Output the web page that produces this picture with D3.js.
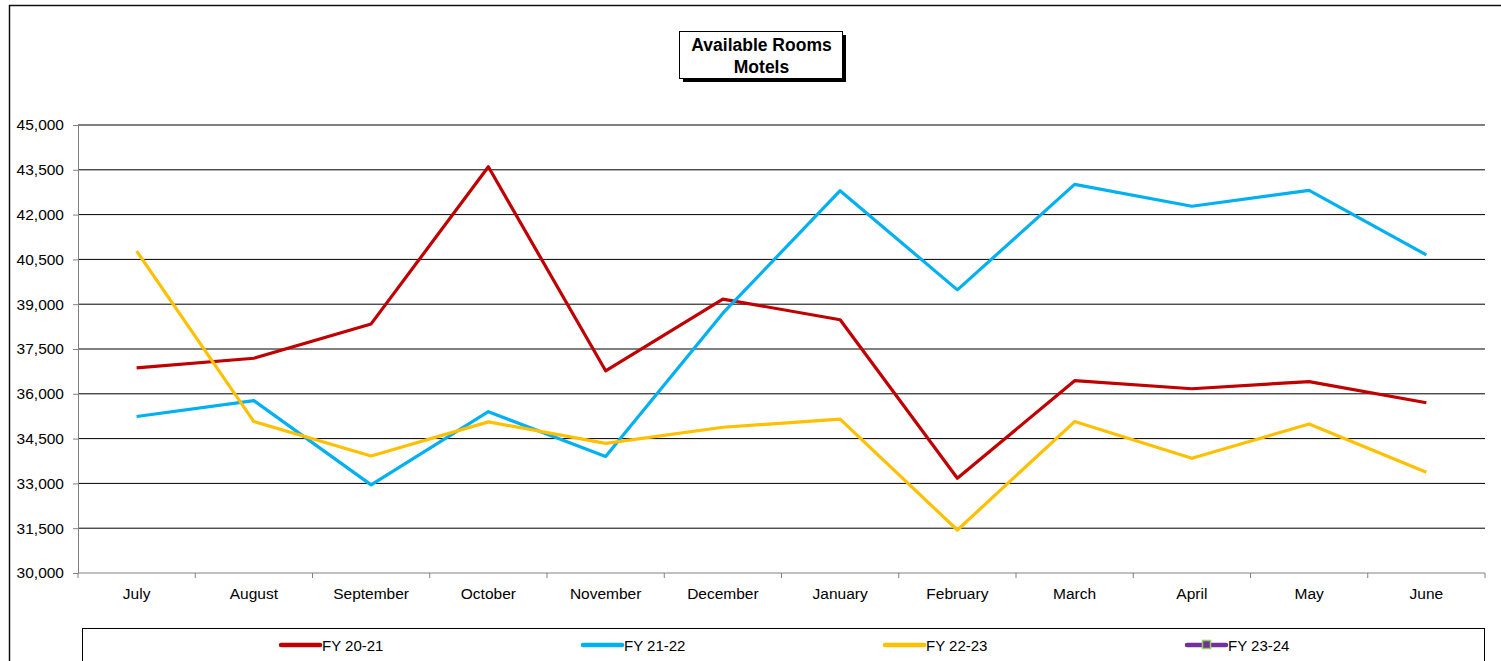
<!DOCTYPE html>
<html>
<head>
<meta charset="utf-8">
<script src="https://cdn.jsdelivr.net/npm/d3@7"></script>
<style>
  html, body { margin: 0; padding: 0; background: #fff; }
  svg { display: block; font-family: "Liberation Sans", Arial, sans-serif; }
</style>
</head>
<body>
<svg id="chart" width="1501" height="661"></svg>
<script>
// Monthly available motel rooms by financial year
const months = ["July", "August", "September", "October", "November", "December",
                "January", "February", "March", "April", "May", "June"];
const fy2021 = [36870, 37190, 38340, 43600, 36770, 39170, 38480, 33170, 36440, 36170, 36410, 35700];
const fy2122 = [35240, 35770, 32950, 35400, 33900, 38700, 42800, 39480, 43010, 42280, 42810, 40650];
const fy2223 = [40780, 35070, 33920, 35060, 34340, 34880, 35150, 31440, 35070, 33840, 34990, 33370];
const fy2324 = [];
const yTicks = [30000, 31500, 33000, 34500, 36000, 37500, 39000, 40500, 42000, 43500, 45000];
const seriesNames = ["FY 20-21", "FY 21-22", "FY 22-23", "FY 23-24"];
const seriesColors = ["#C00000", "#00B0F0", "#FFC000", "#7030A0"];
const seriesValues = [fy2021, fy2122, fy2223, fy2324];

const svg = d3.select("#chart");
const plot = { left: 78, right: 1485, top: 125, bottom: 573 };

// outer chart frame
svg.append("rect")
  .attr("x", 9.5).attr("y", 5.5)
  .attr("width", 1520).attr("height", 700)
  .attr("fill", "#fff").attr("stroke", "#111").attr("stroke-width", 1.5);

const x = d3.scaleBand().domain(months).range([plot.left, plot.right]);
const y = d3.scaleLinear().domain([30000, 45000]).range([plot.bottom, plot.top]);

// horizontal gridlines
svg.append("g").selectAll("line").data(yTicks.filter(t => t > 30000)).join("line")
  .attr("x1", plot.left).attr("x2", plot.right)
  .attr("y1", d => y(d)).attr("y2", d => y(d))
  .attr("stroke", "#000").attr("stroke-width", 1);

// y axis
const yAxis = svg.append("g")
  .attr("transform", `translate(${plot.left},0)`)
  .call(d3.axisLeft(y).tickValues(yTicks).tickFormat(d3.format(",")).tickSize(5).tickSizeOuter(0));
yAxis.select(".domain").attr("stroke", "#808080");
yAxis.selectAll(".tick line").attr("stroke", "#808080");
yAxis.selectAll(".tick text")
  .attr("x", -14).attr("fill", "#000")
  .style("font-size", "15.5px").style("font-family", "Liberation Sans, Arial, sans-serif");

// x axis: ticks sit on category boundaries
const xAxisG = svg.append("g").attr("transform", `translate(0,${plot.bottom})`);
xAxisG.append("line")
  .attr("x1", plot.left).attr("x2", plot.right)
  .attr("stroke", "#808080").attr("stroke-width", 1);
const bounds = months.map(m => x(m)).concat([plot.right]);
xAxisG.selectAll("line.tk").data(bounds).join("line").attr("class", "tk")
  .attr("x1", d => d).attr("x2", d => d).attr("y1", 0).attr("y2", 5)
  .attr("stroke", "#808080");
xAxisG.selectAll("text").data(months).join("text")
  .attr("x", d => x(d) + x.bandwidth() / 2)
  .attr("y", 26)
  .attr("text-anchor", "middle")
  .style("font-size", "15.5px")
  .text(d => d);

// series lines
const line = d3.line()
  .x((d, i) => x(months[i]) + x.bandwidth() / 2)
  .y(d => y(d));
seriesValues.forEach((vals, i) => {
  if (!vals.length) return;
  svg.append("path").datum(vals)
    .attr("d", line)
    .attr("fill", "none")
    .attr("stroke", seriesColors[i])
    .attr("stroke-width", 3.2)
    .attr("stroke-linejoin", "round");
});

// title box with drop shadow
const tb = { x: 679, y: 31, w: 163, h: 47 };
svg.append("rect").attr("x", tb.x + 4).attr("y", tb.y + 4)
  .attr("width", tb.w).attr("height", tb.h).attr("fill", "#000");
svg.append("rect").attr("x", tb.x + 0.5).attr("y", tb.y + 0.5)
  .attr("width", tb.w).attr("height", tb.h)
  .attr("fill", "#fff").attr("stroke", "#000").attr("stroke-width", 1);
const title = svg.append("text")
  .attr("text-anchor", "middle")
  .style("font-size", "17.5px").style("font-weight", "bold");
title.append("tspan").attr("x", tb.x + tb.w / 2 + 1).attr("y", tb.y + 20).text("Available Rooms");
title.append("tspan").attr("x", tb.x + tb.w / 2 + 1).attr("y", tb.y + 42).text("Motels");

// legend
svg.append("rect")
  .attr("x", 82.5).attr("y", 628.5).attr("width", 1402).attr("height", 60)
  .attr("fill", "#fff").attr("stroke", "#000").attr("stroke-width", 1);
const legendX = [281, 583, 885, 1187];
const lg = svg.append("g").selectAll("g").data(seriesNames).join("g")
  .attr("transform", (d, i) => `translate(${legendX[i]},645)`);
lg.append("line")
  .attr("x1", 0).attr("x2", 39)
  .attr("stroke", (d, i) => seriesColors[i])
  .attr("stroke-width", 4.5)
  .attr("stroke-linecap", "round");
lg.filter((d, i) => i === 3).append("rect")
  .attr("x", 15.5).attr("y", -4.5).attr("width", 8).attr("height", 8)
  .attr("fill", "#7030A0").attr("stroke", "#92D050").attr("stroke-width", 1.5);
lg.append("text")
  .attr("x", 41).attr("y", 5.5)
  .style("font-size", "15px")
  .text(d => d);
</script>
</body>
</html>
